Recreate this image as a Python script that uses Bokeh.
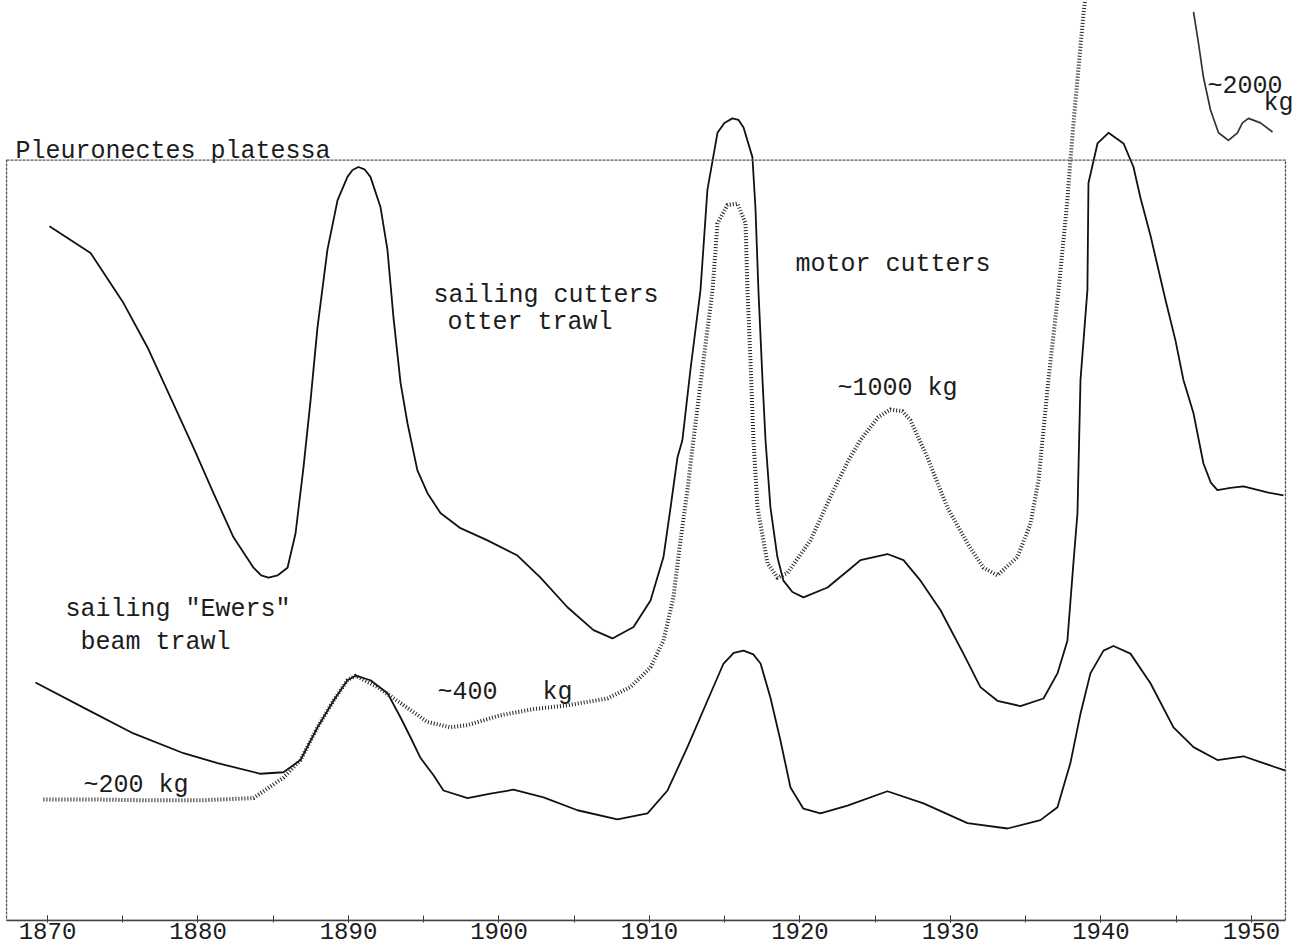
from bokeh.plotting import figure
from bokeh.models import Range1d, FixedTicker, BoxAnnotation, ColumnDataSource
from bokeh.core.properties import value
from bokeh.embed import file_html
from bokeh.resources import INLINE

# ---------------- data (year, relative catch index; frame top = 100) ----------------
upper_years = [1870.13, 1872.86, 1875.05, 1876.64, 1878.17, 1879.70, 1881.03, 1882.36, 1883.69, 1884.20,
               1884.68, 1885.30, 1885.95, 1886.48, 1887.01, 1887.48, 1887.94, 1888.60, 1889.27, 1889.93,
               1890.27, 1890.66, 1891.06, 1891.46, 1892.13, 1892.59, 1892.99, 1893.46, 1893.92, 1894.58,
               1895.25, 1896.11, 1897.44, 1899.24, 1901.23, 1902.76, 1904.55, 1906.28, 1907.54, 1908.94,
               1910.07, 1910.93, 1911.40, 1911.86, 1912.19, 1912.72, 1913.39, 1913.85, 1914.52, 1914.98,
               1915.51, 1915.91, 1916.25, 1916.84, 1917.04, 1917.24, 1917.51, 1917.71, 1918.04, 1918.50,
               1918.90, 1919.50, 1920.23, 1921.83, 1923.36, 1924.02, 1925.81, 1926.88, 1928.01, 1929.34,
               1930.86, 1931.99, 1933.12, 1934.65, 1936.18, 1937.11, 1937.77, 1938.17, 1938.44, 1938.64,
               1939.10, 1939.17, 1939.77, 1940.50, 1941.50, 1942.16, 1942.62, 1943.29, 1944.29, 1944.95,
               1945.48, 1946.15, 1946.81, 1947.30, 1947.74, 1948.60, 1949.47, 1951.06, 1952.13]
upper_vals = [91.3, 87.8, 81.2, 75.4, 68.8, 62.2, 56.2, 50.4, 46.4, 45.4,
              45.1, 45.4, 46.4, 50.9, 59.6, 68.4, 78.0, 88.2, 94.7, 97.8,
              98.7, 99.1, 98.8, 97.8, 93.8, 88.2, 79.3, 70.7, 65.4, 59.2,
              56.2, 53.6, 51.6, 50.0, 48.0, 45.1, 41.2, 38.2, 37.1, 38.6,
              42.1, 47.8, 54.3, 60.9, 63.2, 72.4, 82.9, 96.1, 103.6, 104.9,
              105.5, 105.3, 104.3, 100.4, 93.8, 82.9, 71.1, 63.2, 54.3, 47.8,
              44.7, 43.2, 42.5, 43.8, 46.3, 47.4, 48.2, 47.4, 44.7, 40.8,
              35.1, 30.7, 28.9, 28.2, 29.2, 32.5, 36.8, 47.0, 53.6, 71.1,
              82.9, 97.0, 102.2, 103.6, 102.2, 99.1, 95.1, 90.1, 81.6, 76.3,
              71.1, 66.7, 60.1, 57.6, 56.6, 56.9, 57.1, 56.3, 55.9]

dotted_years = [1869.73, 1873.52, 1876.84, 1880.17, 1883.69, 1885.68, 1886.81, 1887.94, 1889.00, 1889.93,
                1890.47, 1891.93, 1893.46, 1895.25, 1896.78, 1897.91, 1900.10, 1902.29, 1904.55, 1907.21,
                1908.74, 1910.07, 1910.93, 1911.59, 1912.06, 1912.52, 1912.92, 1913.59, 1914.19, 1914.52,
                1915.18, 1915.85, 1916.38, 1916.51, 1916.71, 1916.91, 1917.18, 1917.84, 1918.50, 1919.17,
                1920.70, 1922.23, 1923.22, 1924.02, 1925.20, 1926.01, 1926.80, 1927.34, 1928.47, 1929.80,
                1931.13, 1932.19, 1933.12, 1934.45, 1935.32, 1935.85, 1936.18, 1936.51, 1937.18, 1937.77,
                1937.97, 1938.31, 1938.84, 1939.04]
dotted_vals = [15.9, 15.9, 15.8, 15.8, 16.1, 18.8, 21.1, 25.4, 28.9, 31.6,
               32.2, 30.7, 28.6, 26.1, 25.4, 25.7, 27.0, 27.8, 28.3, 29.2,
               30.7, 33.3, 36.8, 42.5, 50.0, 56.6, 63.2, 73.7, 82.9, 91.7,
               94.1, 94.3, 91.7, 82.9, 73.7, 63.2, 54.3, 47.0, 45.1, 45.7,
               50.0, 56.6, 60.5, 63.2, 66.2, 67.2, 67.0, 65.8, 60.9, 54.3,
               49.6, 46.4, 45.4, 47.8, 52.2, 57.9, 64.5, 71.1, 82.9, 94.7,
               100.0, 107.9, 119.3, 122.4]

lower_years = [1869.20, 1872.39, 1875.71, 1879.04, 1881.30, 1884.15, 1885.68, 1886.81, 1887.94, 1889.00,
               1889.93, 1890.47, 1891.46, 1892.59, 1893.46, 1894.12, 1894.78, 1895.65, 1896.31, 1897.91,
               1899.44, 1900.96, 1902.96, 1905.22, 1907.87, 1909.87, 1911.20, 1912.52, 1913.85, 1914.92,
               1915.60, 1916.25, 1916.90, 1917.38, 1918.04, 1918.70, 1919.37, 1920.23, 1921.36, 1923.16,
               1925.81, 1928.21, 1931.13, 1933.79, 1935.98, 1937.11, 1937.97, 1938.64, 1939.30, 1940.17,
               1940.83, 1941.96, 1943.29, 1944.82, 1946.15, 1947.74, 1949.47, 1950.80, 1952.26]
lower_vals = [31.3, 28.0, 24.6, 22.0, 20.7, 19.3, 19.5, 21.1, 25.4, 28.9,
              31.6, 32.2, 31.6, 29.9, 26.7, 24.1, 21.4, 19.1, 17.1, 16.1,
              16.7, 17.2, 16.2, 14.5, 13.3, 14.1, 17.1, 22.8, 28.9, 33.8,
              35.2, 35.5, 35.0, 33.8, 29.3, 23.7, 17.5, 14.7, 14.1, 15.1,
              17.0, 15.4, 12.8, 12.1, 13.2, 14.9, 20.7, 27.2, 32.5, 35.5,
              36.1, 35.1, 31.2, 25.4, 22.8, 21.1, 21.6, 20.7, 19.7]

# reduced-scale continuation (~2000 kg)
top_years = [1946.15, 1946.48, 1946.81, 1947.28, 1947.81, 1948.47, 1949.07, 1949.40, 1949.80, 1950.60, 1951.40]
top_vals = [119.5, 115.4, 110.9, 106.6, 103.6, 102.6, 103.6, 104.9, 105.5, 104.9, 103.7]

decade_ticks = [1870, 1880, 1890, 1900, 1910, 1920, 1930, 1940, 1950]
five_year_ticks = [1870, 1875, 1880, 1885, 1890, 1895, 1900, 1905, 1910, 1915,
                   1920, 1925, 1930, 1935, 1940, 1945, 1950]

NB = "\u00a0"
note_text = ["Pleuronectes platessa", "sailing cutters", "otter trawl", "motor cutters",
             "~1000 kg", 'sailing "Ewers"', "beam trawl", "~400" + NB + NB + NB + "kg",
             "~200 kg", "~2000", "kg"]
note_x = [1867.87, 1895.65, 1896.58, 1919.70, 1922.49, 1871.20, 1872.19, 1895.91, 1872.39, 1947.08, 1950.80]
note_y = [101.2, 82.2, 78.7, 86.3, 70.0, 40.9, 36.6, 30.0, 17.8, 109.7, 107.4]

# ---------------- figure ----------------
FONT = "Liberation Mono"
INK = "#1c1c1c"

p = figure(width=1297, height=946, output_backend="svg", toolbar_location=None,
           x_range=Range1d(1866.877, 1953.06), y_range=Range1d(0, 121.0),
           y_axis_location=None, min_border_left=0, min_border_right=0,
           min_border_top=0, min_border_bottom=26)
p.outline_line_color = None
p.grid.visible = False
p.background_fill_color = "white"
p.border_fill_color = "white"

ax = p.xaxis[0]
ax.ticker = FixedTicker(ticks=decade_ticks, minor_ticks=five_year_ticks)
ax.bounds = (1867.28, 1952.26)
ax.axis_line_color = "#3a3a3a"
ax.axis_line_width = 1.4
ax.major_tick_in = 5
ax.major_tick_out = 2
ax.minor_tick_in = 5
ax.minor_tick_out = 2
ax.major_tick_line_color = "#3a3a3a"
ax.minor_tick_line_color = "#3a3a3a"
ax.major_label_standoff = 0
ax.major_label_text_font = FONT
ax.major_label_text_font_size = "24px"
ax.major_label_text_color = INK

# frame of the drawing
p.add_layout(BoxAnnotation(left=1867.28, right=1952.26, bottom=0, top=100,
                           fill_alpha=0, line_color="#555555", line_alpha=1.0,
                           line_width=1.3, line_dash="3 1"))

p.line(upper_years, upper_vals, line_color="#111111", line_width=1.8, line_join="round")
p.line(lower_years, lower_vals, line_color="#111111", line_width=1.8, line_join="round")
p.line(dotted_years, dotted_vals, line_color="#222222", line_width=4.0,
       line_dash="1 2", line_join="round")
p.line(top_years, top_vals, line_color="#333333", line_width=1.7, line_join="round")

src = ColumnDataSource(dict(x=note_x, y=note_y, t=note_text))
p.text(x="x", y="y", text="t", source=src, text_font=value(FONT),
       text_font_size="25px", text_color=INK, text_align="left",
       text_baseline="alphabetic")

open("out.html", "w").write(file_html(p, INLINE))
